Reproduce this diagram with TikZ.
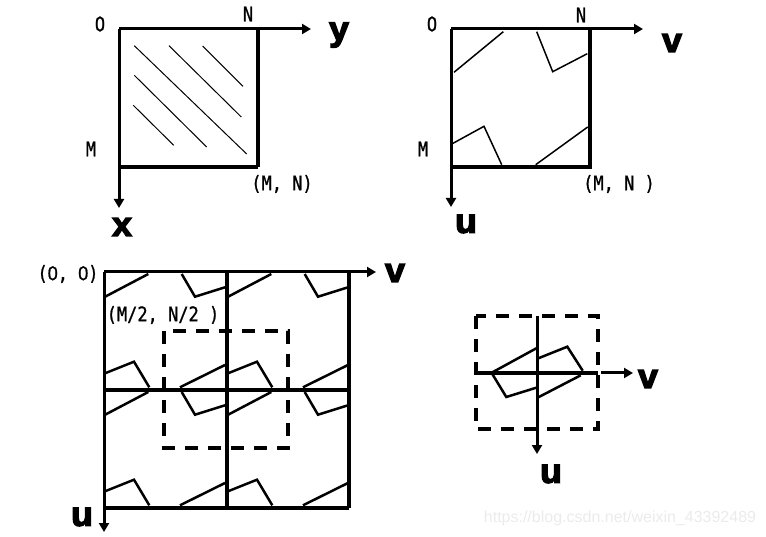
\documentclass[tikz,border=0pt]{standalone}
\usepackage{fontspec}
\usetikzlibrary{arrows.meta}
\newfontfamily\labfont[FakeStretch=0.85,FakeBold=1]{DejaVu Sans Mono}
\newfontfamily\zfont[FakeStretch=0.9,FakeBold=1]{Liberation Sans}
\newfontfamily\bigfont[FakeStretch=1.05,FakeBold=4]{Liberation Sans Bold}
\definecolor{wm}{gray}{0.92}
\tikzset{
  axis/.style={line width=3pt,-{Triangle[length=9pt,width=10pt]}},
  frame/.style={line width=3.3pt},
  thickframe/.style={line width=4.4pt},
  thinline/.style={line width=1pt},
  pattern/.style={line width=1.5pt},
  cellline/.style={line width=2.5pt},
  dashbox/.style={line width=3.4pt,dash pattern=on 13pt off 10pt},
  lab/.style={inner sep=0pt,font=\labfont\fontsize{20}{20}\selectfont},
  biglab/.style={inner sep=0pt,font=\bigfont\fontsize{34}{34}\selectfont},
}
\newcommand{\cellpat}[2]{%
  \begin{scope}[shift={(#1,#2)}]
    \draw[cellline] (0,25.3) -- (44.3,2);
    \draw[cellline] (77.7,2) -- (91,24.7) -- (121,15.3);
    \draw[cellline] (1,101.3) -- (30,89.7) -- (45.3,115.3);
    \draw[cellline] (76,115.3) -- (121,93);
  \end{scope}}
\begin{document}
\begin{tikzpicture}[x=1pt,y=-1pt]
\useasboundingbox (0,0) rectangle (766,537);
% panel 1
\coordinate (a0) at (119,29); \coordinate (aN) at (258,29);
\coordinate (aM) at (119,167); \coordinate (aMN) at (258,167);
\coordinate (ay) at (311,29); \coordinate (ax) at (119,208);
\draw[frame] (aM) -- (aMN);
\draw[thickframe] (aN) -- (aMN);
\draw[axis] (a0) -- (ay);
\draw[axis] (a0) -- (ax);
\draw[thinline] (134.3,45.7) -- (246.7,154);
\draw[thinline] (169,45.7) -- (241.3,117);
\draw[thinline] (202.7,46) -- (243,86.3);
\draw[thinline] (134.3,75.3) -- (206.7,147);
\draw[thinline] (133.3,105.3) -- (173.7,145.3);
\node[lab] (a1) at (100,24) {O};
\node[lab] (a2) at (248,14) {N};
\node[lab] (a3) at (91,149) {M};
\node[lab] (a4) at (282,184) {(M, N)};
\node[biglab] (a5) at (339,35) {y};
\node[biglab] (a6) at (122,227) {x};
% panel 2
\coordinate (b0) at (451,29); \coordinate (bN) at (590,29);
\coordinate (bM) at (451,167); \coordinate (bMN) at (590,167);
\coordinate (bv) at (643,29); \coordinate (bu) at (451,207);
\draw[frame] (bM) -- (bMN) -- (bN);
\draw[axis] (b0) -- (bv);
\draw[axis] (b0) -- (bu);
\draw[pattern] (454,72.3) -- (503.3,31.7);
\draw[pattern] (536.7,31.7) -- (552.7,71.7) -- (587.3,53.7);
\draw[pattern] (452.3,143.7) -- (484,126.3) -- (501.7,164.7);
\draw[pattern] (535.7,164.7) -- (587.7,127);
\node[lab] (b1) at (432,24) {O};
\node[lab] (b2) at (581,15) {N};
\node[lab] (b3) at (423,149) {M};
\node[lab] (b4) at (619,184) {(M, N )};
\node[biglab] (b5) at (672,43) {v};
\node[biglab] (b6) at (466,224) {u};
% panel 3
\coordinate (c0) at (104,272); \coordinate (cR) at (349,272);
\coordinate (cB) at (104,508); \coordinate (cBR) at (349,508);
\coordinate (cT) at (227,272); \coordinate (cBm) at (227,508);
\coordinate (cL) at (104,390); \coordinate (cRm) at (349,390);
\coordinate (cv) at (376,272); \coordinate (cu) at (104,532);
\cellpat{104}{272}\cellpat{227}{272}\cellpat{104}{390}\cellpat{227}{390}
\draw[dashbox] (164,331) rectangle (288,448);
\draw[frame] (cT) -- (cBm);
\draw[frame] (cB) -- (cBR);
\draw[thickframe] (cR) -- (cBR);
\draw[thickframe] (cL) -- (cRm);
\draw[axis] (c0) -- (cv);
\draw[axis] (c0) -- (cu);
\node[lab] (c1) at (68,274) {({\zfont 0}, {\zfont 0})};
\node[lab] (c2) at (163,315) {(M/2, N/2 )};
\node[biglab] (c3) at (395,273) {v};
\node[biglab] (c4) at (82,517) {u};
% panel 4
\coordinate (d0) at (537,316); \coordinate (du) at (537,454);
\coordinate (dl) at (476,373); \coordinate (dr) at (598,373);
\coordinate (ds) at (601,373); \coordinate (dv) at (633,373);
\draw[dashbox] (476,316) rectangle (598,429);
\draw[cellline] (491.7,372.7) -- (536.3,348.3);
\draw[cellline] (538.3,358.3) -- (567.3,346.7) -- (582.7,370.7);
\draw[cellline] (492.3,374) -- (506.3,397) -- (536.3,387.7);
\draw[cellline] (538.3,397.3) -- (580.7,375.3);
\draw[thickframe] (dl) -- (dr);
\draw[axis] (d0) -- (du);
\draw[axis] (ds) -- (dv);
\node[biglab] (d1) at (648,379) {v};
\node[biglab] (d2) at (551,474) {u};
% watermark
\node[inner sep=0pt,text=wm,font=\fontspec{Liberation Sans}\fontsize{16}{16}\selectfont] (w) at (620,518) {https://blog.csdn.net/weixin\_43392489};
\end{tikzpicture}
\end{document}
